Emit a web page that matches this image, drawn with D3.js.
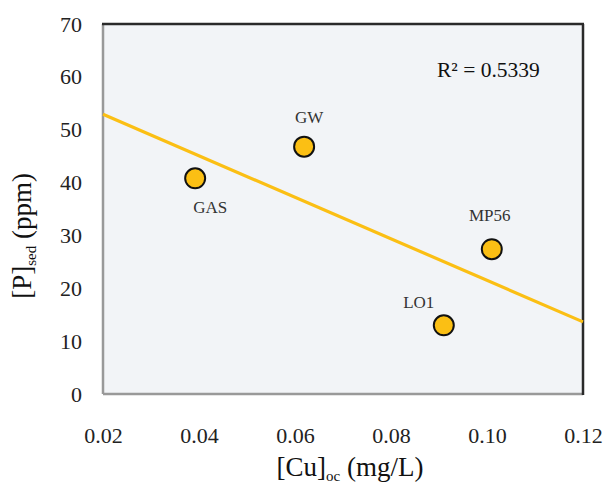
<!DOCTYPE html>
<html><head><meta charset="utf-8">
<script src="https://cdn.jsdelivr.net/npm/d3@7/dist/d3.min.js"></script>
<style>html,body{margin:0;padding:0;background:#fff;}svg{display:block;}</style>
</head><body>
<svg id="chart" width="606" height="486"></svg>
<script>
// ---- data ----
const sites = ["GAS", "GW", "LO1", "MP56"];
const cuValues = [0.0392, 0.0619, 0.0910, 0.1010];   // [Cu]oc (mg/L)
const pValues = [40.8, 46.8, 13.0, 27.4];             // [P]sed (ppm)
const xTicks = [0.02, 0.04, 0.06, 0.08, 0.10, 0.12];
const yTicks = [0, 10, 20, 30, 40, 50, 60, 70];
const r2Label = "R² = 0.5339";

// ---- layout ----
const svg = d3.select("#chart");
const L = 103, R = 583, T = 24, B = 394;
const x = d3.scaleLinear().domain([0.02, 0.12]).range([L, R]);
const y = d3.scaleLinear().domain([0, 70]).range([B, T]);
const font = "'Liberation Serif', 'Times New Roman', serif";
const gold = "#fbbf14";

// plot area
svg.append("rect").attr("x", L).attr("y", T).attr("width", R - L).attr("height", B - T)
  .attr("fill", "#f2f4f7");

// axes (labels only)
const xAxis = svg.append("g").attr("transform", `translate(0,${B})`)
  .call(d3.axisBottom(x).tickValues(xTicks).tickFormat(d3.format(".2f")).tickSize(0).tickPadding(33));
const yAxis = svg.append("g").attr("transform", `translate(${L},0)`)
  .call(d3.axisLeft(y).tickValues(yTicks).tickFormat(d3.format("d")).tickSize(0).tickPadding(21));
[xAxis, yAxis].forEach(g => {
  g.select(".domain").remove();
  g.selectAll("text").attr("font-family", font).attr("font-size", 22).attr("fill", "#222");
});

// frame
svg.append("line").attr("x1", L).attr("x2", L).attr("y1", T).attr("y2", B).attr("stroke", "#999").attr("stroke-width", 2.5);
svg.append("line").attr("x1", L).attr("x2", R).attr("y1", B).attr("y2", B).attr("stroke", "#999").attr("stroke-width", 2.5);
svg.append("line").attr("x1", L - 1).attr("x2", R + 1).attr("y1", T).attr("y2", T).attr("stroke", "#2a2a2a").attr("stroke-width", 2.5);
svg.append("line").attr("x1", R).attr("x2", R).attr("y1", T).attr("y2", B + 1).attr("stroke", "#2a2a2a").attr("stroke-width", 2.5);

// linear regression trend line
const mx = d3.mean(cuValues), my = d3.mean(pValues);
let sxy = 0, sxx = 0;
cuValues.forEach((v, i) => { sxy += (v - mx) * (pValues[i] - my); sxx += (v - mx) ** 2; });
const slope = sxy / sxx, icpt = my - slope * mx;
const [x0, x1] = x.domain();
svg.append("line")
  .attr("x1", x(x0)).attr("y1", y(icpt + slope * x0))
  .attr("x2", x(x1)).attr("y2", y(icpt + slope * x1))
  .attr("stroke", gold).attr("stroke-width", 3.2);

// points
const pts = sites.map((s, i) => ({ s, cx: cuValues[i], py: pValues[i] }));
svg.selectAll("circle.pt").data(pts).join("circle").attr("class", "pt")
  .attr("cx", d => x(d.cx)).attr("cy", d => y(d.py)).attr("r", 10)
  .attr("fill", gold).attr("stroke", "#111").attr("stroke-width", 2);

// point labels (offsets in px)
const offs = { GAS: [15, 35], GW: [5, -24], LO1: [-25, -17], MP56: [-2, -28] };
svg.selectAll("text.lbl").data(pts).join("text").attr("class", "lbl")
  .attr("x", d => x(d.cx) + offs[d.s][0]).attr("y", d => y(d.py) + offs[d.s][1])
  .attr("text-anchor", "middle").attr("font-family", font).attr("font-size", 17)
  .attr("fill", "#333").text(d => d.s);

// R²
svg.append("text").attr("x", 437).attr("y", 77).attr("font-family", font).attr("font-size", 21.5)
  .attr("fill", "#111").text(r2Label);

// axis titles
const xt = svg.append("text").attr("x", 350).attr("y", 476).attr("text-anchor", "middle")
  .attr("font-family", font).attr("font-size", 27).attr("fill", "#111");
xt.append("tspan").text("[Cu]");
xt.append("tspan").attr("font-size", 15).attr("dy", 5).text("oc");
xt.append("tspan").attr("dy", -5).text(" (mg/L)");

const yt = svg.append("text").attr("transform", "translate(31,236) rotate(-90)").attr("text-anchor", "middle")
  .attr("font-family", font).attr("font-size", 27).attr("fill", "#111");
yt.append("tspan").text("[P]");
yt.append("tspan").attr("font-size", 15).attr("dy", 5).text("sed");
yt.append("tspan").attr("dy", -5).text(" (ppm)");
</script>
</body></html>
